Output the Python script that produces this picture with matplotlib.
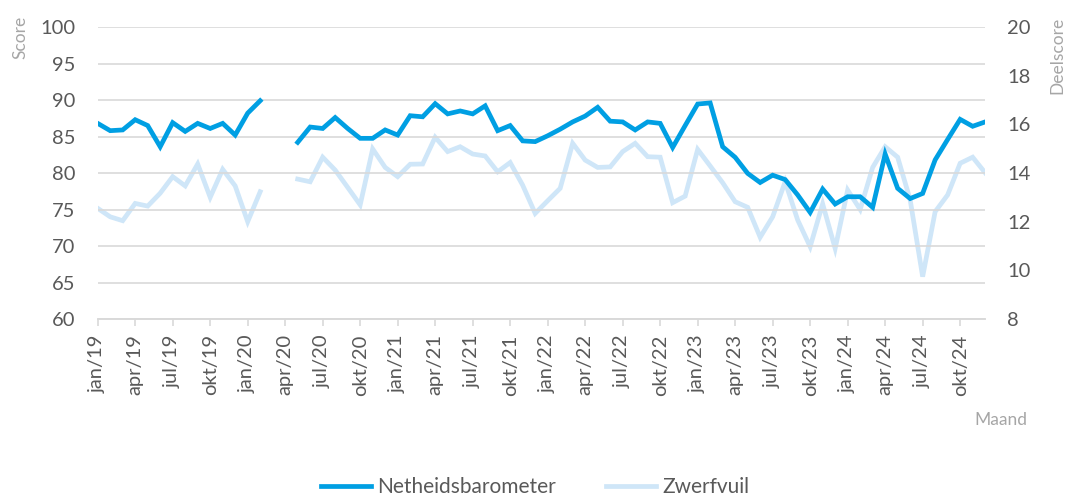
import numpy as np
import matplotlib
matplotlib.use("Agg")
import matplotlib.pyplot as plt

plt.rcParams['font.family'] = ['Lato', 'DejaVu Sans']

# monthly values jan/19 .. dec/24, nan = no measurement
maanden = ["jan", "feb", "mrt", "apr", "mei", "jun", "jul", "aug", "sep", "okt", "nov", "dec"]
jaren = ["19", "20", "21", "22", "23", "24"]
labels = [m + "/" + j for j in jaren for m in maanden]

netheid = [86.8, 85.8, 85.9, 87.3, 86.5, 83.6, 86.9, 85.7, 86.8, 86.1, 86.8, 85.2,
           88.2, 89.9, np.nan, np.nan, 84.2, 86.3, 86.1, 87.6, 86.1, 84.75, 84.75, 85.9,
           85.2, 87.85, 87.7, 89.5, 88.1, 88.5, 88.1, 89.2, 85.8, 86.5, 84.4, 84.3,
           85.1, 86.0, 87.0, 87.8, 89.0, 87.1, 87.0, 85.9, 87.0, 86.8, 83.5, 86.5,
           89.45, 89.6, 83.6, 82.15, 79.95, 78.7, 79.7, 79.1, 77.0, 74.6, 77.8, 75.75,
           76.75, 76.75, 75.3, 82.6, 77.9, 76.5, 77.2, 81.8, 84.6, 87.35, 86.4, 87.0]

zwerfvuil = [12.55, 12.2, 12.04, 12.75, 12.64, 13.17, 13.85, 13.47, 14.37, 13.0, 14.15, 13.47,
             12.0, 13.23, np.nan, np.nan, 13.75, 13.64, 14.65, 14.12, 13.41, 12.69, 14.99, 14.23,
             13.85, 14.36, 14.37, 15.47, 14.88, 15.08, 14.78, 14.7, 14.05, 14.43, 13.5, 12.34,
             12.86, 13.37, 15.22, 14.53, 14.23, 14.25, 14.88, 15.22, 14.67, 14.65, 12.78, 13.05,
             14.97, 14.29, 13.6, 12.82, 12.59, 11.36, 12.2, 13.64, 12.07, 10.97, 12.73, 10.9,
             13.3, 12.5, 14.23, 15.08, 14.65, 12.9, 9.74, 12.41, 13.1, 14.4, 14.65, 14.01]

x = np.arange(len(labels))
tekst = '#595959'
grijs = '#a6a6a6'

fig = plt.figure(figsize=(10.7, 5.03), dpi=100)
ax = fig.add_axes([0.0913, 0.3658, 0.8294, 0.5805])
ax2 = ax.twinx()

ax2.plot(x, zwerfvuil, color='#cfe6f8', lw=3.4, solid_joinstyle='miter', label='Zwerfvuil')
ax.plot(x, netheid, color='#009fe3', lw=3.4, solid_joinstyle='miter', label='Netheidsbarometer')

ax.set_zorder(ax2.get_zorder() + 1)
ax.patch.set_visible(False)

ax.set_xlim(0, 71)
ax.set_ylim(60, 100)
ax.set_yticks(range(60, 101, 5))
ax2.set_ylim(8, 20)
ax2.set_yticks(range(8, 21, 2))

ax.set_xticks(x[::3])
ax.set_xticklabels(labels[::3], rotation=90)

ax.grid(axis='y', color='#d9d9d9', lw=1.2)
for a in (ax, ax2):
    for s in ['top', 'left', 'right']:
        a.spines[s].set_visible(False)
    a.spines['bottom'].set_color('#d9d9d9')
    a.spines['bottom'].set_linewidth(1.2)
ax.tick_params(axis='y', length=0, pad=16, labelsize=14.5, labelcolor=tekst)
ax2.tick_params(axis='y', length=0, pad=16, labelsize=14.5, labelcolor=tekst)
ax.tick_params(axis='x', length=5, width=1.2, color='#d9d9d9', pad=6, labelsize=14.5, labelcolor=tekst)
ax2.tick_params(axis='x', bottom=False, labelbottom=False)

fig.text(0.019, 0.925, 'Score', rotation=90, color=grijs, fontsize=12.5, ha='center', va='center')
fig.text(0.988, 0.89, 'Deelscore', rotation=90, color=grijs, fontsize=12.5, ha='center', va='center')
fig.text(0.935, 0.165, 'Maand', color=grijs, fontsize=12.5, ha='center', va='center')

h1, l1 = ax.get_legend_handles_labels()
h2, l2 = ax2.get_legend_handles_labels()
fig.legend(h1 + h2, l1 + l2, loc='lower center', bbox_to_anchor=(0.5, -0.025), ncol=2,
           frameon=False, fontsize=15, labelcolor=tekst, handlelength=2.4,
           columnspacing=2.4, handletextpad=0.3)

fig.savefig('out.png', dpi=100)
